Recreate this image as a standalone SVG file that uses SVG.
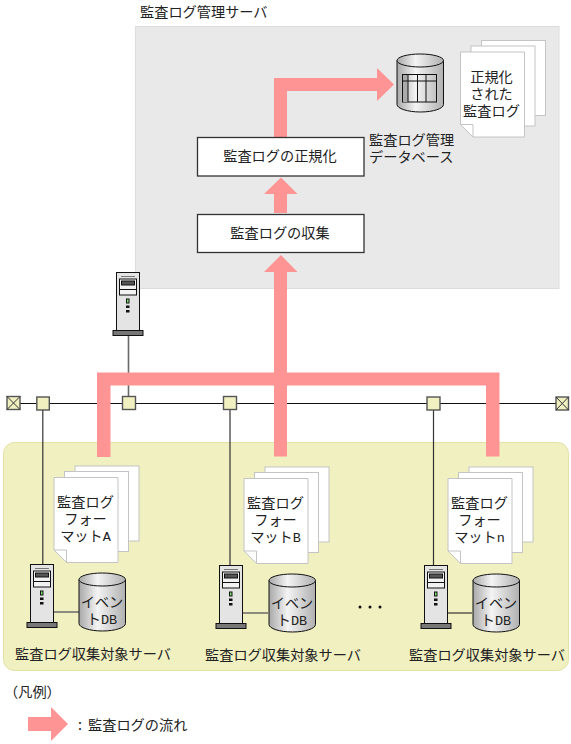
<svg xmlns="http://www.w3.org/2000/svg" width="571" height="744" viewBox="0 0 571 744">
<style>
text{font-family:"Noto Sans CJK JP","Noto Sans",sans-serif;font-size:14.2px;fill:#222}
.m{text-anchor:middle}
.lat{font-family:"Liberation Mono",monospace;font-size:13.5px}
.flow{fill:#ff9494}
.line{fill:none;stroke:#333;stroke-width:1.2}
.gl{fill:none;stroke:#6a6a6a;stroke-width:1.6}
.bus{fill:none;stroke:#111;stroke-width:1}
.page{fill:#fff;stroke:#c4c4c4;stroke-width:1}
.box{fill:#fff;stroke:#333;stroke-width:1.3}
.sq{fill:#f1f0c0;stroke:#555;stroke-width:1.4}
</style>
<defs>
<linearGradient id="cyl" x1="0" x2="1" y1="0" y2="0">
<stop offset="0" stop-color="#a8a8a8"/><stop offset=".4" stop-color="#f4f4f4"/><stop offset="1" stop-color="#b0b0b0"/>
</linearGradient>
<g id="server">
<rect x=".5" y=".5" width="23" height="58" fill="#e4e4e4" stroke="#111" stroke-width="1"/>
<path d="M5 4.500h14" stroke="#777" stroke-width="1"/>
<rect x="3.500" y="7" width="17" height="16" fill="#f2f2f2" stroke="#111" stroke-width="1"/>
<path d="M3.500 17.500h17" stroke="#111" stroke-width="1"/>
<rect x="5.500" y="9" width="13" height="4" fill="#555" stroke="#111" stroke-width="1"/>
<rect x="10.500" y="27" width="2.500" height="4" fill="#7be06a" stroke="#111" stroke-width="1"/>
<rect x="10" y="33.500" width="3.500" height="2.500" fill="#111"/>
<rect x="10" y="38" width="3.500" height="2.500" fill="#111"/>
<rect x="-3" y="58.500" width="30" height="5" fill="#777" stroke="#111" stroke-width="1"/>
</g>
<g id="cylinder">
<path d="M.5 7V51C.5 55 11 58.500 24 58.500S47 55 47 51V7Z" fill="url(#cyl)" stroke="#111" stroke-width="1"/>
<ellipse cx="23.750" cy="7" rx="23.250" ry="6.500" fill="url(#cyl)" stroke="#111" stroke-width="1"/>
</g>
<g id="docs">
<rect x="21.500" y="-11" width="64" height="75" class="page"/>
<rect x="11" y="-5.500" width="64" height="80" class="page"/>
<path d="M.5 .5H64.500V85.500H13L.5 73Z" class="page"/>
<path d="M.5 73H13V85.500" fill="none" stroke="#c4c4c4"/>
</g>
</defs>

<rect id="mgmt-area" x="135.500" y="26.500" width="423.500" height="262" fill="#e9e9e9" stroke="#dcdcdc"/>
<rect id="target-area" x="3.500" y="442.500" width="565" height="228" rx="11" fill="#f1f0c0" stroke="#e2e2a6"/>
<text x="140" y="17">監査ログ管理サーバ</text>

<g id="connectors">
<path class="bus" d="M13 403.500H562"/>
<path class="gl" d="M128.500 334V397"/>
<path class="line" d="M42.800 410V565M230 410V565M433.500 410V565"/>
<path class="gl" d="M53 612H79M242 613H268"/>
<path class="line" d="M447 613H472"/>
<path class="flow" d="M274 137V78H377V68L394 84.500L377 101V91H287V137Z"/>
<path class="flow" d="M274 213V194H264L281 177.500L297.500 194H287V213Z"/>
<path class="flow" d="M97 457V372.500H274V272H264L281 255L297.500 272H287V372.500H499.500V456.500H486V385.500H287V456.500H274V385.500H110.500V457Z"/>
</g>

<g id="node-xl"><rect x="7" y="396.500" width="13" height="13" class="sq"/><path d="M7 396.500L20 409.500M20 396.500L7 409.500" stroke="#333"/></g>
<g id="node-xr"><rect x="556" y="397" width="12.500" height="13" class="sq"/><path d="M556 397L568.500 410M568.500 397L556 410" stroke="#333"/></g>
<rect id="hub-1" x="36.800" y="397" width="12.500" height="13" class="sq"/>
<rect id="hub-2" x="122.500" y="396.500" width="13" height="13" class="sq"/>
<rect id="hub-3" x="223.500" y="396.500" width="13" height="13" class="sq"/>
<rect id="hub-4" x="427" y="397" width="13" height="13" class="sq"/>

<g id="mgmt-server"><use href="#server" x="116" y="272"/></g>

<g id="normalize"><rect x="197.500" y="137.500" width="166.500" height="38.500" class="box"/><text class="m" x="280" y="161">監査ログの正規化</text></g>
<g id="collect"><rect x="197.500" y="214.500" width="166.500" height="38" class="box"/><text class="m" x="280" y="238">監査ログの収集</text></g>

<g id="mgmt-db">
<use href="#cylinder" x="396.500" y="53.500"/>
<rect x="402.500" y="74.500" width="34" height="27.500" fill="none" stroke="#111" stroke-width="1"/>
<rect x="403" y="75" width="5" height="27" fill="#aaa"/>
<path d="M402.500 81H436.500M408 74.500V102M417.500 74.500V102M426 74.500V102" stroke="#111" stroke-width="1" fill="none"/>
<text x="369" y="145">監査ログ管理</text>
<text x="369" y="162">データベース</text>
</g>

<g id="normalized-log">
<use href="#docs" x="460" y="51.500"/>
<text class="m" x="491.500" y="82">正規化</text>
<text class="m" x="491.500" y="99">された</text>
<text class="m" x="491.500" y="116">監査ログ</text>
</g>

<g id="target-a">
<use href="#docs" x="53.500" y="477"/>
<text class="m" x="85.500" y="507">監査ログ</text>
<text class="m" x="85.500" y="524">フォー</text>
<text class="m" x="85.500" y="541">マット<tspan class="lat">A</tspan></text>
<use href="#server" x="30" y="564"/>
<use href="#cylinder" x="78.500" y="572.500"/>
<text class="m" x="102" y="607">イベン</text>
<text class="m" x="102" y="624">ト<tspan class="lat">DB</tspan></text>
<text x="15" y="659">監査ログ収集対象サーバ</text>
</g>

<g id="target-b">
<use href="#docs" x="243.500" y="478"/>
<text class="m" x="275.500" y="508">監査ログ</text>
<text class="m" x="275.500" y="525">フォー</text>
<text class="m" x="275.500" y="542">マット<tspan class="lat">B</tspan></text>
<use href="#server" x="219" y="565"/>
<use href="#cylinder" x="268.500" y="573.500"/>
<text class="m" x="292" y="608">イベン</text>
<text class="m" x="292" y="625">ト<tspan class="lat">DB</tspan></text>
<text x="205" y="660">監査ログ収集対象サーバ</text>
</g>

<g id="dots" fill="#111"><circle cx="360" cy="607" r="1.500"/><circle cx="370" cy="607" r="1.500"/><circle cx="380" cy="607" r="1.500"/></g>

<g id="target-n">
<use href="#docs" x="447.500" y="478"/>
<text class="m" x="479.500" y="508">監査ログ</text>
<text class="m" x="479.500" y="525">フォー</text>
<text class="m" x="479.500" y="542">マット<tspan class="lat">n</tspan></text>
<use href="#server" x="424" y="565"/>
<use href="#cylinder" x="472.500" y="573.500"/>
<text class="m" x="496" y="608">イベン</text>
<text class="m" x="496" y="625">ト<tspan class="lat">DB</tspan></text>
<text x="409" y="660">監査ログ収集対象サーバ</text>
</g>

<g id="legend">
<text x="4" y="697">（凡例）</text>
<path class="flow" d="M28 717H51V707L68 724L51 741V731H28Z"/>
<text x="78" y="730">:</text>
<text x="88" y="730">監査ログの流れ</text>
</g>
</svg>
